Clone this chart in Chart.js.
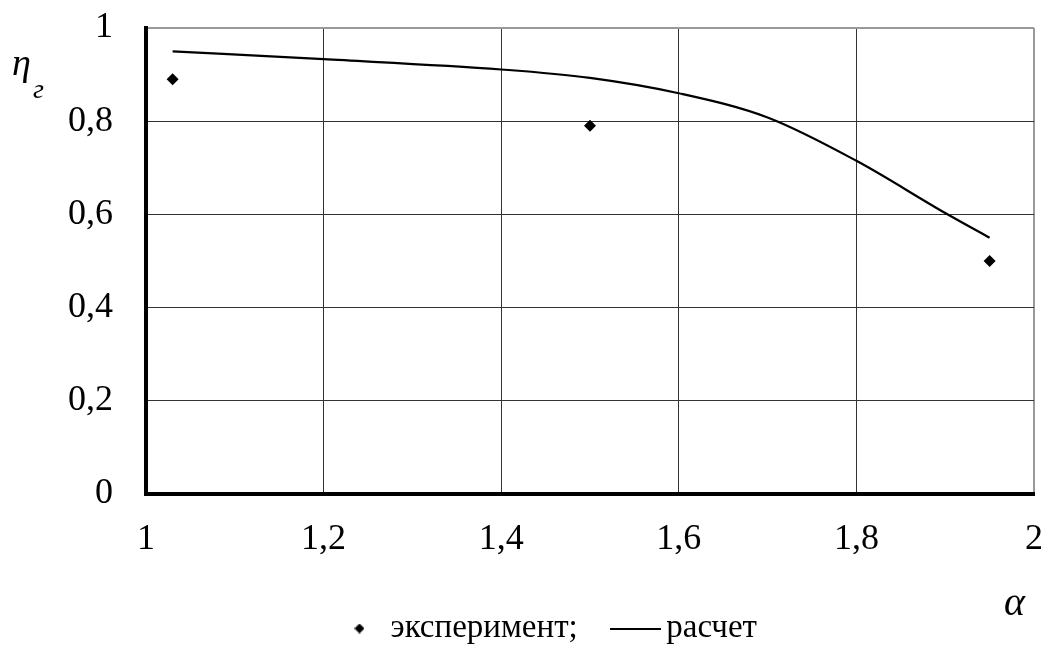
<!DOCTYPE html>
<html>
<head>
<meta charset="utf-8">
<script src="https://cdn.jsdelivr.net/npm/chart.js@4.4.1/dist/chart.umd.min.js"></script>
<style>
  html, body { margin: 0; padding: 0; background: #fff; }
  canvas { display: block; }
</style>
</head>
<body>
<canvas id="chart" width="1046" height="645"></canvas>
<script>
// Axis ticks
const xTicks = [1, 1.2, 1.4, 1.6, 1.8, 2];
const yTicks = [0, 0.2, 0.4, 0.6, 0.8, 1];

// Measured points (experiment)
const expAlpha = [1.03, 1.5, 1.95];
const expEta = [0.89, 0.79, 0.50];

// Calculated curve
const calcAlpha = [1.03, 1.2, 1.4, 1.5, 1.6, 1.7, 1.8, 1.9, 1.95];
const calcEta = [0.950, 0.933, 0.911, 0.893, 0.860, 0.808, 0.715, 0.603, 0.550];

const seriesNames = ['эксперимент;', 'расчет'];

const SERIF = '"Liberation Serif", "Times New Roman", serif';

const fmt = v => {
  const r = Math.round(v * 10) / 10;
  return String(r).replace('.', ',');
};

// Legend icons
function diamondIcon(size) {
  const c = document.createElement('canvas');
  c.width = size; c.height = size;
  const g = c.getContext('2d');
  g.fillStyle = '#000';
  g.beginPath();
  g.moveTo(size / 2, 0);
  g.lineTo(size, size / 2);
  g.lineTo(size / 2, size);
  g.lineTo(0, size / 2);
  g.closePath();
  g.fill();
  return c;
}
function lineIcon(len) {
  const c = document.createElement('canvas');
  c.width = len; c.height = 2;
  const g = c.getContext('2d');
  g.fillStyle = '#000';
  g.fillRect(0, 0, len, 2);
  return c;
}
const legendIcons = [diamondIcon(10), lineIcon(51)];

// Axis symbols drawn beside the plot
const axisSymbols = {
  id: 'axisSymbols',
  afterDraw(chart) {
    const ctx = chart.ctx;
    ctx.save();
    ctx.fillStyle = '#000';
    ctx.textBaseline = 'alphabetic';
    ctx.textAlign = 'left';
    ctx.font = 'italic 38px ' + SERIF;
    ctx.fillText('η', 12, 75);
    ctx.font = 'italic 28px ' + SERIF;
    ctx.fillText('г', 33, 98);
    ctx.font = 'italic 40px ' + SERIF;
    ctx.fillText('α', 1004, 615);
    ctx.restore();
  }
};

const isEdge = ctx => ctx.tick && ((ctx.scale.axis === 'y' && ctx.tick.value === 1) || (ctx.scale.axis === 'x' && ctx.tick.value === 2));
const gridColor = ctx => isEdge(ctx) ? '#999' : '#333';
const gridWidth = ctx => isEdge(ctx) ? 2 : 1;

new Chart(document.getElementById('chart'), {
  type: 'scatter',
  data: {
    datasets: [
      {
        label: seriesNames[0],
        data: expAlpha.map((x, i) => ({ x, y: expEta[i] })),
        showLine: false,
        pointStyle: 'rectRot',
        pointRadius: 6,
        pointBackgroundColor: '#000',
        pointBorderColor: '#000',
        pointBorderWidth: 0,
        order: 1
      },
      {
        label: seriesNames[1],
        data: calcAlpha.map((x, i) => ({ x, y: calcEta[i] })),
        showLine: true,
        borderColor: '#000',
        borderWidth: 2.2,
        pointRadius: 0,
        cubicInterpolationMode: 'monotone',
        order: 2
      }
    ]
  },
  options: {
    responsive: false,
    animation: false,
    devicePixelRatio: 1,
    layout: { padding: { left: 68, right: 12, top: 28, bottom: -10 } },
    plugins: {
      tooltip: { enabled: false },
      legend: {
        position: 'bottom',
        align: 'center',
        labels: {
          usePointStyle: true,
          pointStyleWidth: 29,
          boxHeight: 10,
          padding: 43,
          color: '#000',
          font: { family: SERIF, size: 33 },
          generateLabels(chart) {
            const items = Chart.defaults.plugins.legend.labels.generateLabels(chart);
            items.forEach((it, i) => { it.pointStyle = legendIcons[i]; it.fontColor = '#000'; });
            return items;
          }
        }
      }
    },
    scales: {
      x: {
        type: 'linear',
        min: 1, max: 2,
        afterBuildTicks(scale) { scale.ticks = xTicks.map(v => ({ value: v })); },
        afterFit(scale) { scale.height = 75; scale.paddingLeft = 0; scale.paddingRight = 0; },
        grid: { color: gridColor, lineWidth: gridWidth, drawTicks: false },
        border: { color: '#000', width: 4 },
        ticks: {
          color: '#000',
          padding: 24,
          maxRotation: 0,
          font: { family: SERIF, size: 36 },
          callback: v => fmt(v)
        }
      },
      y: {
        type: 'linear',
        min: 0, max: 1,
        afterBuildTicks(scale) { scale.ticks = yTicks.map(v => ({ value: v })); },
        afterFit(scale) { scale.width = 78; scale.paddingTop = 0; scale.paddingBottom = 0; },
        grid: { color: gridColor, lineWidth: gridWidth, drawTicks: false },
        border: { color: '#000', width: 4 },
        ticks: {
          color: '#000',
          padding: 33,
          font: { family: SERIF, size: 36 },
          callback: v => fmt(v)
        }
      }
    }
  },
  plugins: [axisSymbols]
});
</script>
</body>
</html>
